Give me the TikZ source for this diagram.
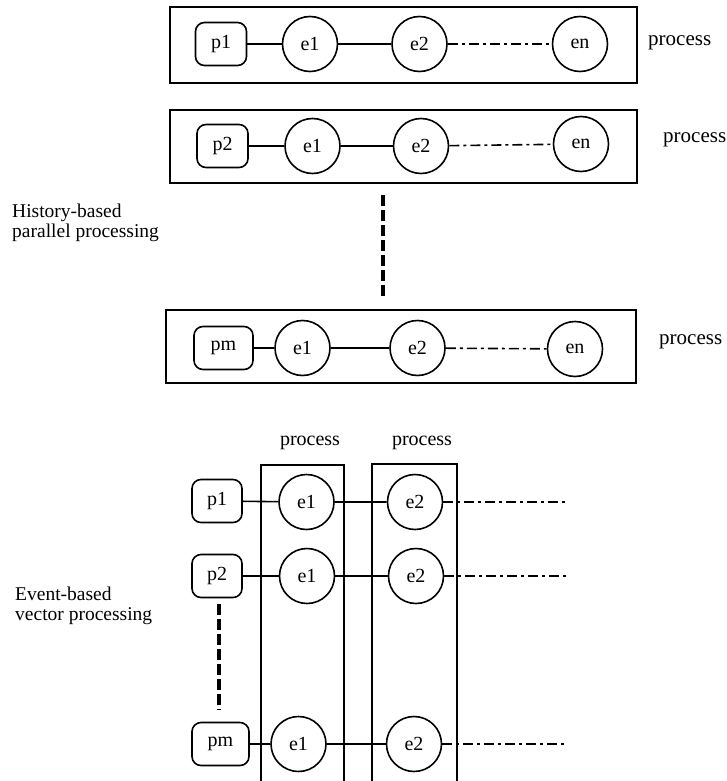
\documentclass[tikz,border=0pt]{standalone}
\usepackage{fontspec}
\setmainfont{Liberation Serif}
\begin{document}
\begin{tikzpicture}[x=1pt,y=-1pt,
  lw/.style={line width=1.6pt},
  pbox/.style={draw,lw,rounded corners=9pt,minimum width=51pt,minimum height=43pt,inner sep=0pt,font=\fontsize{20}{22}\selectfont},
  ev/.style={draw,lw,circle,minimum size=55pt,inner sep=0pt,font=\fontsize{20}{22}\selectfont},
  frame/.style={lw},
  link/.style={lw},
  dd/.style={lw,dash pattern=on 10pt off 4pt on 3pt off 4pt},
  vd/.style={line width=3.5pt,dash pattern=on 11pt off 4pt},
  side/.style={font=\fontsize{21}{22}\selectfont,anchor=west,inner sep=0pt},
  head/.style={font=\fontsize{20}{22}\selectfont,inner sep=0pt},
  lab/.style={font=\fontsize{19.5}{20}\selectfont,align=left,anchor=north west,inner sep=0pt}
]
\useasboundingbox (0,0) rectangle (726,781);

% ---------- History-based parallel processing ----------
\draw[frame] (170,7) rectangle (637,83);
\draw[frame] (170,110) rectangle (637,183);
\draw[frame] (166,310) rectangle (636,383);

\node[pbox] (ap1) at (221,44) {p1};
\node[ev] (a11) at (310,44) {e1};
\node[ev] (a12) at (419.5,44) {e2};
\node[ev] (a1n) at (580,44) {en};
\draw[link] (ap1) -- (a11) -- (a12);
\draw[dd] (a12) -- (a1n);
\node[side] (s1) at (648,43) {process};

\node[pbox] (ap2) at (222.5,146) {p2};
\node[ev] (a21) at (312.5,146) {e1};
\node[ev] (a22) at (421,146) {e2};
\node[ev] (a2n) at (581,144) {en};
\draw[link] (ap2) -- (a21) -- (a22);
\draw[dd] (a22) -- (a2n);
\node[side] (s2) at (663,140) {process};

\node[pbox,minimum width=59pt] (apm) at (223.5,348) {pm};
\node[ev] (am1) at (302.5,348) {e1};
\node[ev] (am2) at (417.5,348) {e2};
\node[ev] (amn) at (575,349) {en};
\draw[link] (apm) -- (am1) -- (am2);
\draw[dd] (am2) -- (amn);
\node[side] (s3) at (659,342) {process};

\coordinate (vt) at (383,195);
\coordinate (vb) at (383,297);
\draw[vd] (vt) -- (vb);

\node[lab] (hist) at (12,204) {History-based\\parallel processing};

% ---------- Event-based vector processing ----------
\draw[frame] (261,781) -- (261,465) -- (344,465) -- (344,781);
\draw[frame] (372,781) -- (372,464) -- (457,464) -- (457,781);
\node[head] (h1) at (310,443) {process};
\node[head] (h2) at (422,443) {process};

\node[pbox,minimum width=50pt] (bp1) at (217,501) {p1};
\node[ev] (b11) at (306.5,502) {e1};
\node[ev] (b12) at (415,502) {e2};
\coordinate (b1e) at (567,502);
\draw[link] (bp1) -- (b11) -- (b12);
\draw[dd] (b12) -- (b1e);

\node[pbox,minimum width=50pt] (bp2) at (217,576) {p2};
\node[ev] (b21) at (307,576) {e1};
\node[ev] (b22) at (416,576) {e2};
\coordinate (b2e) at (567,576);
\draw[link] (bp2) -- (b21) -- (b22);
\draw[dd] (b22) -- (b2e);

\node[pbox,minimum width=57pt] (bpm) at (220.5,744) {pm};
\node[ev] (bm1) at (298.5,744) {e1};
\node[ev] (bm2) at (414,744) {e2};
\coordinate (bme) at (567,744);
\draw[link] (bpm) -- (bm1) -- (bm2);
\draw[dd] (bm2) -- (bme);

\coordinate (wt) at (219,604);
\coordinate (wb) at (219,710);
\draw[vd] (wt) -- (wb);

\node[lab] (evb) at (15,587) {Event-based\\vector processing};
\end{tikzpicture}
\end{document}
